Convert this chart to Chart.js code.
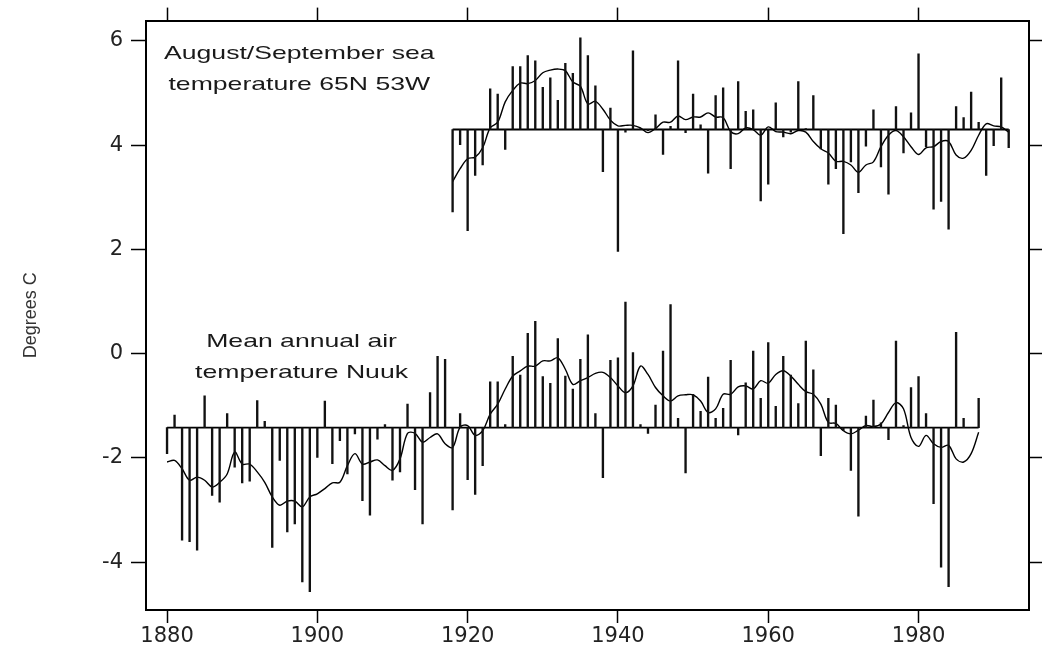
<!DOCTYPE html>
<html><head><meta charset="utf-8">
<script src="https://cdn.jsdelivr.net/npm/chart.js@4.4.0/dist/chart.umd.min.js"></script>
<style>html,body{margin:0;padding:0;background:#fff}#wrap{width:1045px;height:650px;position:relative}</style>
</head><body><div id="wrap"><canvas id="c"></canvas></div>
<script>
// ---- DATA ----
const seaFirstYear = 1918;
const seaAnom = [2.72,4.01,2.36,3.42,3.62,5.08,4.98,3.92,5.51,5.51,
 5.72,5.62,5.11,5.29,4.86,5.57,5.38,6.06,5.72,5.14,
 3.49,4.71,1.96,4.25,5.81,4.32,4.28,4.58,3.82,4.36,
 5.62,4.24,4.98,4.39,3.46,4.95,5.10,3.55,5.22,4.65,
 4.68,2.93,3.25,4.81,4.16,4.25,5.22,4.32,4.95,3.93,
 3.25,3.55,2.30,3.68,3.09,3.98,4.68,3.58,3.06,4.74,
 3.85,4.62,5.75,3.97,2.77,2.92,2.39,4.74,4.53,5.02,
 4.44,3.42,3.99,5.29,3.95];
const seaSmooth = [3.30,3.55,3.74,3.77,3.95,4.33,4.44,4.83,5.05,5.19,
 5.18,5.24,5.39,5.44,5.46,5.43,5.21,5.13,4.79,4.84,
 4.69,4.48,4.37,4.38,4.38,4.33,4.24,4.32,4.44,4.44,
 4.56,4.49,4.54,4.54,4.62,4.54,4.53,4.26,4.22,4.33,
 4.30,4.19,4.35,4.26,4.25,4.22,4.28,4.25,4.07,3.93,
 3.85,3.69,3.69,3.62,3.48,3.62,3.68,3.97,4.19,4.28,
 4.16,3.97,3.82,3.95,3.97,4.07,4.07,3.81,3.75,3.90,
 4.19,4.41,4.37,4.35,4.25];
const airFirstYear = 1880;
const airAnom = [-1.92,-1.18,-3.58,-3.61,-3.77,-0.81,-2.72,-2.85,-1.15,-2.18,
 -2.48,-2.45,-0.90,-1.30,-3.72,-2.05,-3.42,-3.27,-4.38,-4.57,
 -1.99,-0.91,-2.11,-1.67,-2.31,-1.54,-2.82,-3.10,-1.64,-1.36,
 -2.43,-2.27,-0.97,-2.61,-3.27,-0.75,-0.05,-0.11,-3.00,-1.15,
 -2.42,-2.70,-2.15,-0.54,-0.54,-1.36,-0.05,-0.41,0.39,0.62,
 -0.44,-0.57,0.29,-0.43,-0.68,-0.11,0.36,-1.15,-2.38,-0.13,
 -0.08,0.99,0.02,-1.36,-1.53,-0.99,0.05,0.94,-1.24,-2.29,
 -0.78,-1.11,-0.45,-1.24,-1.05,-0.13,-1.56,-0.56,0.05,-0.86,
 0.21,-1.01,-0.05,-0.41,-0.96,0.24,-0.31,-1.96,-0.86,-0.99,
 -1.48,-2.24,-3.12,-1.20,-0.89,-1.33,-1.65,0.24,-1.38,-0.65,
 -0.44,-1.15,-2.88,-4.10,-4.47,0.41,-1.24,-1.42,-0.86];
const airSmooth = [-2.08,-2.05,-2.21,-2.43,-2.37,-2.43,-2.56,-2.47,-2.31,-1.89,
 -2.12,-2.12,-2.27,-2.47,-2.75,-2.91,-2.83,-2.83,-2.94,-2.75,
 -2.69,-2.59,-2.48,-2.47,-2.15,-1.92,-2.12,-2.08,-2.04,-2.15,
 -2.24,-2.02,-1.53,-1.53,-1.70,-1.61,-1.54,-1.73,-1.80,-1.41,
 -1.38,-1.57,-1.48,-1.16,-0.97,-0.68,-0.43,-0.33,-0.24,-0.24,
 -0.14,-0.14,-0.08,-0.30,-0.59,-0.52,-0.46,-0.38,-0.36,-0.46,
 -0.62,-0.75,-0.62,-0.24,-0.40,-0.65,-0.81,-0.91,-0.81,-0.79,
 -0.79,-0.91,-1.13,-1.06,-0.78,-0.78,-0.64,-0.62,-0.68,-0.52,
 -0.57,-0.40,-0.33,-0.43,-0.59,-0.73,-0.78,-0.97,-1.32,-1.34,
 -1.48,-1.54,-1.47,-1.38,-1.40,-1.35,-1.13,-0.94,-1.06,-1.61,
 -1.78,-1.57,-1.73,-1.80,-1.76,-2.02,-2.08,-1.92,-1.51];
const seaBase = 4.30;
const airBase = -1.42;
const xTickYears = [1880, 1900, 1920, 1940, 1960, 1980];
const yTickValues = [-4, -2, 0, 2, 4, 6];
const seaLabel = ['August/September sea', 'temperature 65N 53W'];
const airLabel = ['Mean annual air', 'temperature Nuuk'];
const yTitle = 'Degrees C';

// ---- BUILD ----
const seaYears = seaAnom.map((_, i) => seaFirstYear + i);
const airYears = airAnom.map((_, i) => airFirstYear + i);
const stems = (yrs, vals, base) => yrs.map((yr, i) => ({x: yr, y: [base, vals[i]]}));
const pts = (yrs, vals) => yrs.map((yr, i) => ({x: yr, y: vals[i]}));
const baseLine = (yrs, base) => [{x: yrs[0], y: base}, {x: yrs[yrs.length - 1], y: base}];

const TICK_FONT = {family: 'DejaVu Sans', size: 21};
const stemStyle = {type: 'bar', backgroundColor: '#111', borderWidth: 0, barThickness: 1.7, grouped: false};
const lineStyle = {type: 'line', borderColor: '#000', pointRadius: 0, fill: false};

const annotationPlugin = {
  id: 'textNotes',
  afterDatasetsDraw(chart, args, opts) {
    const ctx = chart.ctx, xs = chart.scales.x, ys = chart.scales.y;
    opts.notes.forEach(n => {
      const px = xs.getPixelForValue(n.x);
      n.lines.forEach((t, k) => {
        const py = ys.getPixelForValue(n.y[k]);
        ctx.save();
        ctx.translate(px, py);
        ctx.scale(opts.stretch, 1);
        ctx.font = opts.font;
        ctx.fillStyle = '#1a1a1a';
        ctx.textAlign = 'center';
        ctx.textBaseline = 'alphabetic';
        ctx.fillText(t, 0, 0);
        ctx.restore();
      });
    });
  }
};

const frameAxis = (pos, extra) => Object.assign({
  type: 'linear', position: pos, offset: false,
  grid: {drawOnChartArea: false, drawTicks: true, tickLength: 13, tickWidth: 1.5, tickColor: '#000', offset: false},
  border: {display: true, color: '#000', width: 2}
}, extra);

new Chart(document.getElementById('c'), {
  type: 'bar',
  data: {
    datasets: [
      Object.assign({label: 'sea', data: stems(seaYears, seaAnom, seaBase)}, stemStyle),
      Object.assign({label: 'air', data: stems(airYears, airAnom, airBase)}, stemStyle),
      Object.assign({label: 'seaSmooth', data: pts(seaYears, seaSmooth), borderWidth: 1.4, tension: 0.35}, lineStyle),
      Object.assign({label: 'airSmooth', data: pts(airYears, airSmooth), borderWidth: 1.4, tension: 0.35}, lineStyle),
      Object.assign({label: 'seaBase', data: baseLine(seaYears, seaBase), borderWidth: 1.8}, lineStyle),
      Object.assign({label: 'airBase', data: baseLine(airYears, airBase), borderWidth: 1.8}, lineStyle)
    ]
  },
  options: {
    responsive: true, maintainAspectRatio: false, animation: false,
    layout: {padding: 0},
    plugins: {
      legend: {display: false}, tooltip: {enabled: false},
      textNotes: {
        font: '19px "Liberation Sans", Arial, sans-serif', stretch: 1.4,
        notes: [
          {lines: seaLabel, x: 1897.6, y: [5.65, 5.05]},
          {lines: airLabel, x: 1897.9, y: [0.13, -0.47]}
        ]
      }
    },
    scales: {
      x: frameAxis('bottom', {
        min: 1877.2, max: 1994.7,
        afterBuildTicks: s => { s.ticks = xTickYears.map(v => ({value: v})); },
        afterFit: s => { s.height = 40; },
        ticks: {callback: v => String(v), font: TICK_FONT, color: '#222', padding: 1, maxRotation: 0, autoSkip: false}
      }),
      x2: frameAxis('top', {
        min: 1877.2, max: 1994.7,
        afterBuildTicks: s => { s.ticks = xTickYears.map(v => ({value: v})); },
        afterFit: s => { s.height = 18; },
        ticks: {display: false}
      }),
      y: frameAxis('left', {
        min: -4.92, max: 6.39,
        afterBuildTicks: s => { s.ticks = yTickValues.map(v => ({value: v})); },
        afterFit: s => { s.width = 146; },
        ticks: {callback: v => String(v), font: TICK_FONT, color: '#222', padding: 8, autoSkip: false},
        grid: {drawOnChartArea: false, drawTicks: true, tickLength: 15, tickWidth: 1.5, tickColor: '#000'},
        title: {display: true, text: yTitle, font: {family: 'Liberation Sans', size: 18}, color: '#333', padding: {top: 20, bottom: 0}}
      }),
      y2: frameAxis('right', {
        min: -4.92, max: 6.39,
        afterBuildTicks: s => { s.ticks = yTickValues.map(v => ({value: v})); },
        afterFit: s => { s.width = 16; },
        ticks: {display: false}
      })
    }
  },
  plugins: [annotationPlugin]
});
</script>
</body></html>
